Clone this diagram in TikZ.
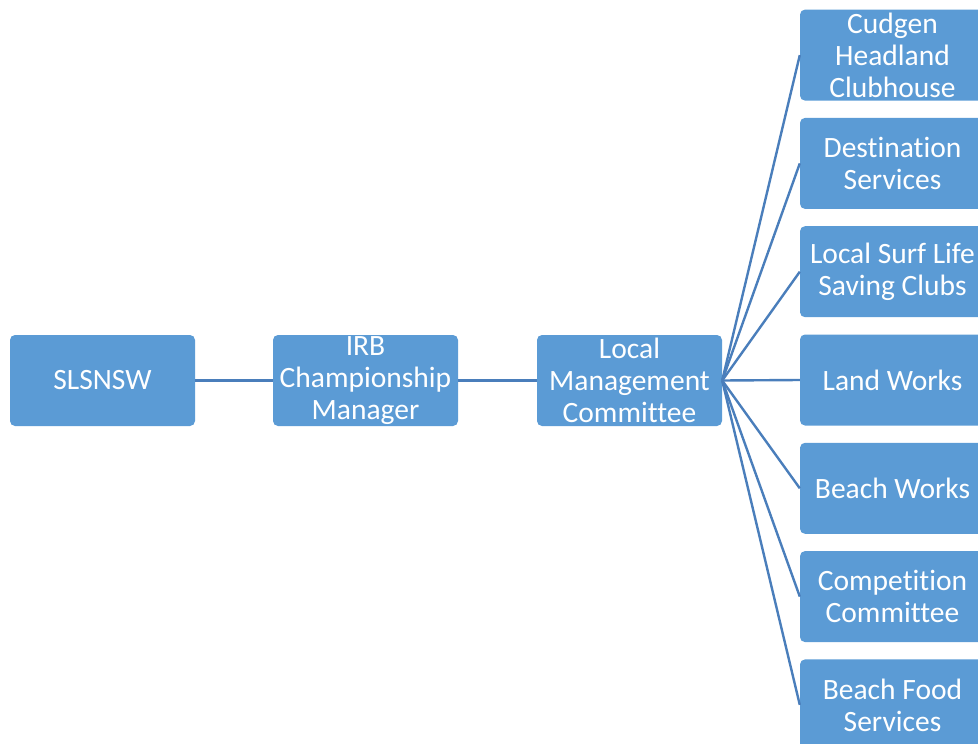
\documentclass[tikz,border=0pt]{standalone}
\usepackage{fontspec}
\setmainfont{Carlito}[Ligatures={NoCommon,NoContextual}]
\definecolor{boxblue}{HTML}{5B9BD5}
\definecolor{lineblue}{HTML}{4A7EBB}
\begin{document}
\begin{tikzpicture}[x=1pt,y=-1pt,
  box/.style={fill=boxblue,rounded corners=5pt,minimum width=185pt,minimum height=91pt,inner sep=0pt,draw=none},
  txt/.style={text=white,font=\fontsize{29.5pt}{32pt}\selectfont,align=center,inner sep=0pt},
  conn/.style={draw=lineblue,line width=2.4pt}]
\useasboundingbox (0,0) rectangle (978,744);
\node[box] (s) at (102.5,380.5) {};
\node[box] (irb) at (365.5,380.5) {};
\node[box] (lmc) at (629.5,380.5) {};
\foreach \i/\n in {1/cud,2/dest,3/surf,4/land,5/beach,6/comp,7/food}{
  \node[box] (\n) at (892.5,{380+(\i-4)*108.3}) {};
}
\draw[conn,line width=3pt] (s.east) -- (irb.west);
\draw[conn,line width=3pt] (irb.east) -- (lmc.west);
\foreach \n in {cud,dest,surf,land,beach,comp,food}{
  \draw[conn] (lmc.east) -- (\n.west);
}
\node[txt] at (s) {SLSNSW};
\node[txt] at (irb) {IRB\\Championship\\Manager};
\node[txt] at (lmc) {Local\\Management\\Committee};
\node[txt] at (cud) {Cudgen\\Headland\\Clubhouse};
\node[txt] at (dest) {Destination\\Services};
\node[txt] at (surf) {Local Surf Life\\Saving Clubs};
\node[txt] at (land) {Land Works};
\node[txt] at (beach) {Beach Works};
\node[txt] at (comp) {Competition\\Committee};
\node[txt] at (food) {Beach Food\\Services};
\end{tikzpicture}
\end{document}
